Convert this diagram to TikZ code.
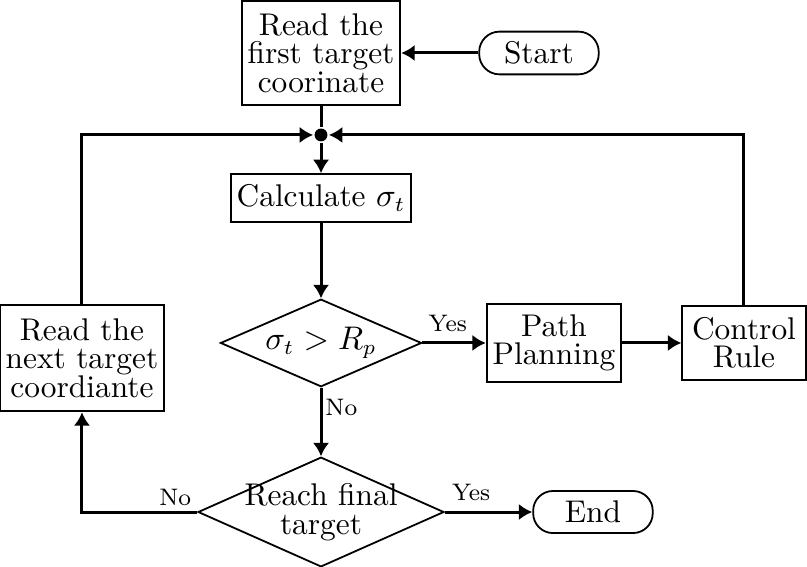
\documentclass[tikz,border=0pt]{standalone}
\usepackage{amsmath}
\usepackage{amssymb}
\usetikzlibrary{arrows.meta,shapes.geometric}

\begin{document}
\begin{tikzpicture}[auto, >={Latex[length=4.5pt,width=5.5pt]}, line width=1pt]
            \useasboundingbox (0,0) rectangle (9.49,-6.667);
            \begin{scope}[every node/.style={draw=black,line width=0.6pt,align=center,inner xsep=2pt,font=\fontsize{10.5pt}{9.5pt}\selectfont}]
                \node[rectangle,minimum width=50.3pt,minimum height=35pt] (first) at (3.775,-0.623) {Read the\\first target\\coorinate};
                \node[rectangle,rounded corners=6.8pt,minimum width=40pt,minimum height=13.7pt] (start) at (6.338,-0.623) {Start};
                \node[rectangle,minimum width=59.3pt,minimum height=16pt] (calc) at (3.775,-2.328) {Calculate $\sigma_t$};
                \node[diamond,aspect=2.2,inner sep=-2pt,minimum width=67.3pt,minimum height=29.3pt] (cmp) at (3.775,-4.033) {$\sigma_t > R_p$};
                \node[diamond,aspect=2.2,inner sep=-2pt,minimum width=82.3pt,minimum height=36.7pt] (reach) at (3.775,-6.021) {Reach final\\target};
                \node[rectangle,minimum width=54pt,minimum height=35.7pt] (next) at (0.964,-4.21) {Read the\\next target\\coordiante};
                \node[rectangle,minimum width=42.3pt,minimum height=26pt] (plan) at (6.514,-4.033) {Path\\Planning};
                \node[rectangle,minimum width=41.3pt,minimum height=24.7pt] (rule) at (8.749,-4.033) {Control\\Rule};
                \node[rectangle,rounded corners=6.6pt,minimum width=40pt,minimum height=13.3pt] (end) at (6.973,-6.021) {End};
            \end{scope}
            \node[circle,fill=black,inner sep=0pt,minimum size=4.3pt] (join) at (3.775,-1.587) {};
            \draw (start) edge [->] (first);
            \draw (first) -- (join);
            \draw (join) edge [->] (calc);
            \draw (calc) edge [->] (cmp);
            \draw (cmp) edge [->] node[font=\footnotesize,pos=0.4]{Yes} (plan);
            \draw (plan) edge [->] (rule);
            \draw (cmp) edge [->] node[font=\footnotesize,pos=0.1,anchor=north west,inner sep=1pt]{No} (reach);
            \draw (reach) edge [->] node[font=\footnotesize,pos=0.3]{Yes} (end);
            \draw [->] (reach.west) node[font=\footnotesize,anchor=south east,inner sep=1.5pt]{No} -| (next.south);
            \draw [->] (next.north) |- (join);
            \draw [->] (rule.north) |- (join);
        \end{tikzpicture}
\end{document}
